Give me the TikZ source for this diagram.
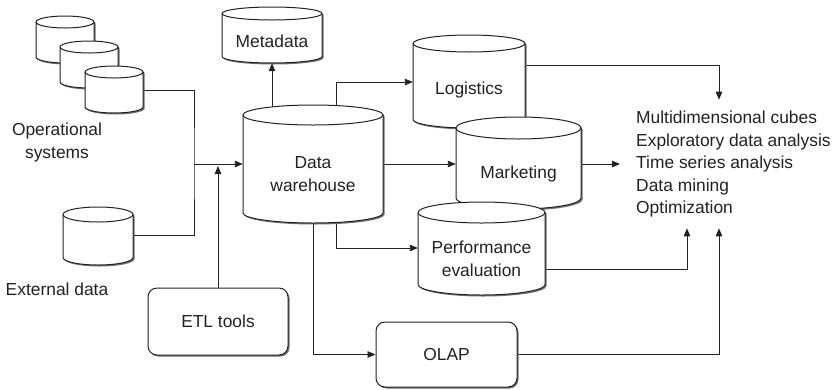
\documentclass[tikz,border=0pt]{standalone}
\usepackage{fontspec}
\setmainfont{Liberation Sans}
\usetikzlibrary{arrows.meta,shadows}
\pgfdeclarelayer{background}
\pgfsetlayers{background,main}
\definecolor{ink}{HTML}{222222}
\definecolor{shadowc}{HTML}{707070}
\newcommand{\dbcyl}[7]{%
  \pgfmathsetmacro\cylrx{(#4-#2)/2}%
  \pgfmathsetmacro\cylw{#4-#2}%
  \pgfmathsetmacro\cylh{#5-#3-2*#6}%
  \pgfmathsetmacro\cylcx{(#2+#4)/2}%
  \pgfmathsetmacro\cylcy{(#3+2*#6+#5)/2}%
  \fill[shadowc] (#2+1.5,#3+#6+1.5) -- (#2+1.5,#5-#6+1.5)
     arc[start angle=180,end angle=360,x radius=\cylrx pt,y radius=#6pt]
     -- (#4+1.5,#3+#6+1.5)
     arc[start angle=0,end angle=180,x radius=\cylrx pt,y radius=#6pt] -- cycle;
  \draw[shapeline, fill=white] (#2,#3+#6) -- (#2,#5-#6)
     arc[start angle=180,end angle=360,x radius=\cylrx pt,y radius=#6pt]
     -- (#4,#3+#6)
     arc[start angle=0,end angle=180,x radius=\cylrx pt,y radius=#6pt] -- cycle;
  \draw[shapeline] (#2,#3+#6)
     arc[start angle=180,end angle=360,x radius=\cylrx pt,y radius=#6pt];
  \node[cyltext, minimum width=\cylw pt, minimum height=\cylh pt] (#1) at (\cylcx,\cylcy) {#7};
}
\begin{document}
\begin{tikzpicture}[x=1pt,y=-1pt,
  lbl/.style={font=\fontsize{17.4}{22.5}\selectfont, text=ink, align=center},
  cyltext/.style={lbl, inner sep=0pt},
  shapeline/.style={draw=ink, line width=1pt},
  rbox/.style={lbl, draw=ink, line width=1pt, rounded corners=9pt, fill=white,
     drop shadow={shadow xshift=1.5pt, shadow yshift=-1.5pt, fill=shadowc, opacity=1}},
  conn/.style={draw=ink, line width=0.9pt},
  arr/.style={conn, -{Triangle[length=8pt,width=6.5pt]}}
]
\begin{pgfonlayer}{background}
\fill[white] (0,0) rectangle (837,389);
\end{pgfonlayer}
\useasboundingbox (0,0) rectangle (837,389);

% operational systems
\dbcyl{op1}{36}{16}{94}{63}{6}{}
\dbcyl{op2}{60}{41}{118}{88}{6}{}
\dbcyl{op3}{85}{66}{143}{113}{6}{}
\node[lbl] (opl) at (57,142.5) {Operational\\systems};

% external data
\dbcyl{ext}{63}{207}{133}{265}{7.5}{}
\node[lbl] (extl) at (57,289) {External data};

% ETL tools
\node[rbox, minimum width=140pt, minimum height=67pt] (etl) at (218,321.5) {ETL tools};

% metadata and warehouse
\dbcyl{meta}{222}{7}{322}{63}{6.5}{Metadata}
\dbcyl{dw}{243}{105}{383}{223}{10}{Data\\warehouse}

% data marts
\dbcyl{log}{413}{35}{525}{128}{8.5}{Logistics}
\dbcyl{mkt}{456}{117}{581}{209}{11}{Marketing}
\dbcyl{perf}{418}{202}{545}{295}{10.5}{Performance\\evaluation}

% OLAP
\node[rbox, minimum width=141pt, minimum height=65pt] (olap) at (446.5,354.5) {OLAP};

% analysis list
\node[lbl, align=left, anchor=west, inner xsep=0pt, inner ysep=11pt] (list) at (636,164)
  {Multidimensional cubes\\Exploratory data analysis\\Time series analysis\\Data mining\\Optimization};

\coordinate (j) at (194,164);

\begin{pgfonlayer}{background}
  \draw[conn] ([yshift=5.5pt]op3.east) -| (j) |- ([yshift=8.5pt]ext.east);
  \draw[arr] (j) -- (dw.west |- j);
  \draw[arr, shorten >=2pt] (etl.north) -- (etl.north |- j);
  \draw[arr] (meta.south |- dw.north) -- (meta.south);
  \draw[arr] ([xshift=23pt]dw.north) |- ([yshift=8pt]log.west);
  \draw[arr] ([yshift=25pt]log.east) -| ([xshift=83pt]list.north west);
  \draw[arr] ([yshift=10pt]dw.east) -- ([yshift=10pt]mkt.west);
  \draw[arr] ([yshift=10pt]mkt.east) -- ([xshift=-16pt]list.west);
  \draw[arr] ([xshift=23pt]dw.south) |- ([yshift=11pt]perf.west);
  \draw[arr] ([yshift=-10pt]perf.east) -| ([xshift=51pt]list.south west);
  \draw[arr] (dw.south) |- (olap.west);
  \draw[arr] (olap.east) -| ([xshift=83pt]list.south west);
\end{pgfonlayer}
\end{tikzpicture}
\end{document}
